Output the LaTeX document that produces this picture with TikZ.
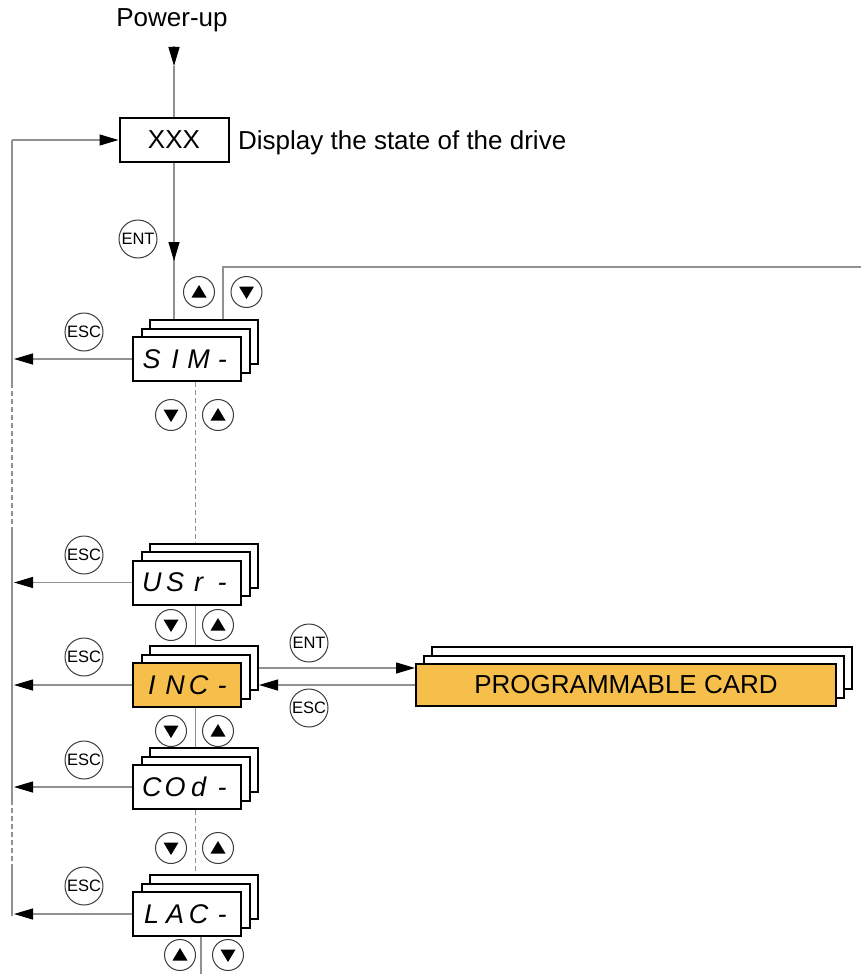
\documentclass[tikz,border=0pt]{standalone}
\usepackage{fontspec}
\setmainfont{Liberation Sans}
\usetikzlibrary{arrows.meta}
\definecolor{connc}{RGB}{145,145,145}
\definecolor{orng}{RGB}{246,191,76}
\definecolor{ringc}{RGB}{60,60,60}
\pgfdeclarelayer{bg}
\pgfsetlayers{bg,main}
\newcommand\sg[1]{\makebox[23.5pt][c]{#1}}
\newcommand\dispstack[5]{%
  \node[dispbox] (#1C) at (#2+17,#3-17) {};
  \node[dispbox] (#1B) at (#2+8.5,#3-8.5) {};
  \node[dispbox,fill=#4,font=\fontsize{27}{30}\selectfont\itshape] (#1) at (#2,#3) {#5};
}
\begin{document}
\begin{tikzpicture}[x=1pt,y=-1pt,
  conn/.style={draw=connc,line width=1.1pt},
  dashconn/.style={conn,dash pattern=on 5pt off 3pt},
  >={Triangle[length=19pt,width=11pt,color=black]},
  dispbox/.style={draw=black,line width=2pt,fill=white,minimum width=108pt,minimum height=44pt,inner sep=0pt},
  cardbox/.style={draw=black,line width=2pt,fill=white,minimum width=420pt,minimum height=42pt,inner sep=0pt},
  big/.style={font=\fontsize{26}{30}\selectfont},
  key/.style={circle,draw=ringc,line width=1pt,minimum size=38pt,inner sep=0pt,fill=white,font=\fontsize{16.5}{18}\selectfont},
  btn/.style={circle,draw=ringc,line width=1pt,minimum size=31pt,inner sep=0pt,fill=white},
  btnU/.style={btn,path picture={\fill[black] ([yshift=7pt]path picture bounding box.center) -- ([xshift=7.5pt,yshift=-5.5pt]path picture bounding box.center) -- ([xshift=-7.5pt,yshift=-5.5pt]path picture bounding box.center) -- cycle;}},
  btnD/.style={btn,path picture={\fill[black] ([yshift=-7pt]path picture bounding box.center) -- ([xshift=7.5pt,yshift=5.5pt]path picture bounding box.center) -- ([xshift=-7.5pt,yshift=5.5pt]path picture bounding box.center) -- cycle;}}
]
\useasboundingbox (0,0) rectangle (861,974);

% texts and top box
\node[big,anchor=base] (pu) at (172,27) {Power-up};
\node[big,draw=black,line width=2pt,minimum width=109pt,minimum height=44pt,inner sep=0pt] (xxx) at (174,140) {XXX};
\node[big,anchor=base west,inner sep=0pt] (dtxt) at (238,149) {Display the state of the drive};

% display stacks
\dispstack{sim}{187}{359}{white}{\sg{S}\sg{I}\sg{M}\sg{-}}
\dispstack{usr}{187}{582.5}{white}{\sg{U}\sg{S}\sg{r}\sg{-}}
\dispstack{inc}{187}{685}{orng}{\sg{I}\sg{N}\sg{C}\sg{-}}
\dispstack{cod}{187}{787}{white}{\sg{C}\sg{O}\sg{d}\sg{-}}
\dispstack{lac}{187}{914}{white}{\sg{L}\sg{A}\sg{C}\sg{-}}

% programmable card stack
\node[cardbox] (cardC) at (642,668) {};
\node[cardbox] (cardB) at (634,676.5) {};
\node[cardbox,fill=orng,big] (card) at (626,685) {PROGRAMMABLE CARD};

% keys
\node[key] (entTop) at (138,239) {ENT};
\node[btnU] (u1) at (199,292) {};
\node[btnD] (d1) at (246.5,292) {};
\node[key] (esc1) at (84,332) {ESC};
\node[btnD] (d2) at (171,415) {};
\node[btnU] (u2) at (218,415) {};
\node[key] (esc2) at (84,555) {ESC};
\node[btnD] (d3) at (171,625) {};
\node[btnU] (u3) at (218,625) {};
\node[key] (esc3) at (84,657) {ESC};
\node[key] (entC) at (309,643) {ENT};
\node[key] (escC) at (309,708) {ESC};
\node[btnD] (d4) at (171,731) {};
\node[btnU] (u4) at (218,731) {};
\node[key] (esc4) at (84,760) {ESC};
\node[btnD] (d5) at (171,848) {};
\node[btnU] (u5) at (218,848) {};
\node[key] (esc5) at (84,886) {ESC};
\node[btnU] (u6) at (180,955) {};
\node[btnD] (d6) at (228,955) {};

% coordinates
\coordinate (puA) at (174,46);
\coordinate (puB) at (174,66);
\coordinate (entA) at (174,241);
\coordinate (entB) at (174,261);
\coordinate (tr1) at (223,267);
\coordinate (trEnd) at (861,267);
\coordinate (L0) at (12,140);
\coordinate (L1) at (12,383);
\coordinate (L2) at (12,527);
\coordinate (L3) at (12,800);
\coordinate (L4) at (12,865);
\coordinate (L5) at (12,916);
\coordinate (Ltip) at (14,0);
\coordinate (bot) at (201,974);

\begin{pgfonlayer}{bg}
  % power-up
  \draw[conn,->] (puA) -- (puB);
  \draw[conn] (puB) -- (xxx.north);
  % ENT down to SIM
  \draw[conn] (xxx.south) -- (xxx.south |- simC.north);
  \draw[conn,->] (entA) -- (entB);
  % top-right loop
  \draw[conn] (simC.north -| tr1) -- (tr1) -- (trEnd);
  % left return line
  \draw[conn,->] (L0) -- (xxx.west);
  \draw[conn] (L0) -- (L1);
  \draw[dashconn] (L1) -- (L2);
  \draw[conn] (L2) -- (L3);
  \draw[dashconn] (L3) -- (L4);
  \draw[conn] (L4) -- (L5);
  % ESC arrows
  \draw[conn,->] (sim.west) -- (sim.west -| Ltip);
  \draw[conn,->] (usr.west) -- (usr.west -| Ltip);
  \draw[conn,->] (inc.west) -- (inc.west -| Ltip);
  \draw[conn,->] (cod.west) -- (cod.west -| Ltip);
  \draw[conn,->] (lac.west) -- (lac.west -| Ltip);
  % vertical chain
  \draw[dashconn] (sim.south -| simB.center) -- (usrC.north -| simB.center);
  \draw[conn] (usr.south -| simB.center) -- (incC.north -| simB.center);
  \draw[conn] (inc.south -| simB.center) -- (codC.north -| simB.center);
  \draw[dashconn] (cod.south -| simB.center) -- (lacC.north -| simB.center);
  \draw[conn] (lac.south -| bot) -- (bot);
  % card links
  \draw[conn,->] (incC.east) -- (incC.east -| card.west);
  \draw[conn,->] (card.west) -- (card.west -| incC.east);
\end{pgfonlayer}
\end{tikzpicture}
\end{document}
